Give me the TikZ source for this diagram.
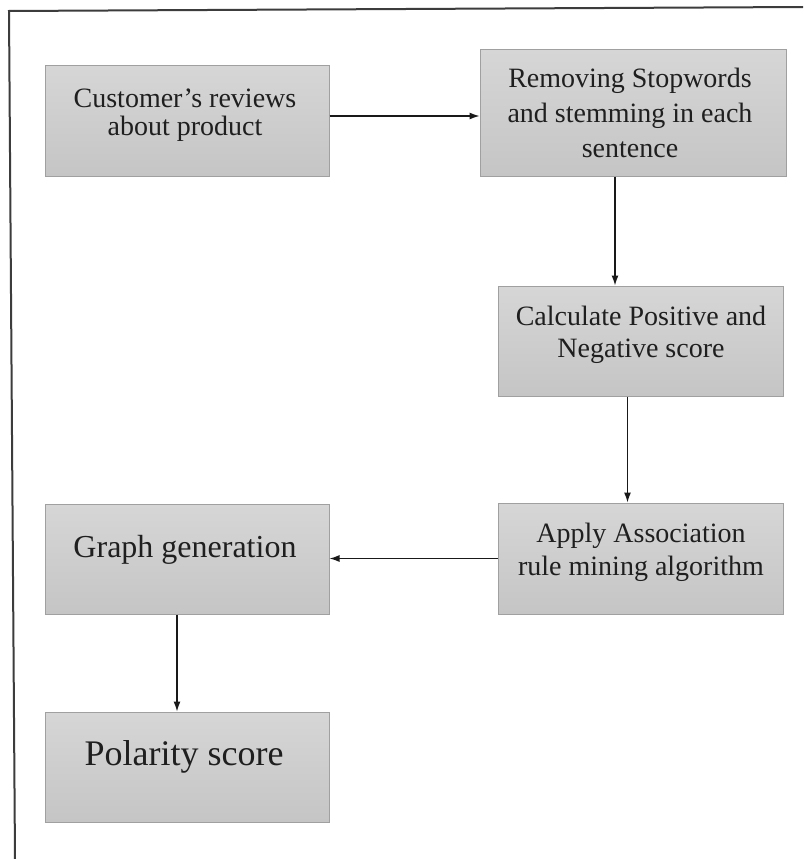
\documentclass[tikz,border=0pt]{standalone}
\usepackage{fontspec}
\setmainfont{Liberation Serif}
\usetikzlibrary{arrows.meta}
\definecolor{boxtop}{RGB}{214,214,214}
\definecolor{boxbot}{RGB}{197,197,197}
\definecolor{boxline}{RGB}{160,160,160}
\definecolor{arr}{RGB}{25,25,25}
\definecolor{frame}{RGB}{60,60,60}
\begin{document}
\begin{tikzpicture}[x=1pt,y=-1pt,
  box/.style={draw=boxline, line width=1pt, top color=boxtop, bottom color=boxbot,
    rectangle, inner sep=0pt},
  lbl/.style={align=center, text=black!88, inner sep=0pt},
  flow/.style={draw=arr, line width=1.3pt, -{Latex[length=10pt,width=7pt]}}]
\useasboundingbox (0,0) rectangle (803,859);
\fill[white] (0,0) rectangle (803,859);
% frame
\coordinate (ftl) at (9,11);
\coordinate (ftr) at (803,7);
\coordinate (fbl) at (15,859);
\draw[frame, line width=2pt] (ftr) -- (ftl) -- (fbl);
% boxes
\node[box, minimum width=284pt, minimum height=110pt] (b1) at (187,121) {};
\node[box, minimum width=306pt, minimum height=126pt] (b2) at (633,113) {};
\node[box, minimum width=285pt, minimum height=110pt] (b3) at (640.5,341) {};
\node[box, minimum width=285pt, minimum height=111pt] (b4) at (640.5,558.5) {};
\node[box, minimum width=284pt, minimum height=110pt] (b5) at (187,559) {};
\node[box, minimum width=284pt, minimum height=110pt] (b6) at (187,767) {};
% labels
\node[lbl, font=\fontsize{28}{28}\selectfont] (t1) at (185,115) {Customer’s reviews\\about product};
\node[lbl, font=\fontsize{28}{35}\selectfont] (t2) at (630,113) {Removing Stopwords\\and stemming in each\\sentence};
\node[lbl, font=\fontsize{28}{32}\selectfont] (t3) at (641,335) {Calculate Positive and\\Negative score};
\node[lbl, font=\fontsize{28}{33}\selectfont] (t4) at (641,552) {Apply Association\\rule mining algorithm};
\node[lbl, font=\fontsize{32}{36}\selectfont] (t5) at (185,550) {Graph generation};
\node[lbl, font=\fontsize{36}{40}\selectfont] (t6) at (184,757) {Polarity score};
% connectors
\draw[flow] ([yshift=5pt]b1.east) -- ([yshift=5pt]b1.east -| b2.west);
\draw[flow] ([xshift=-18pt]b2.south) -- ([xshift=-18pt]b2.south |- b3.north);
\draw[flow] ([xshift=-13pt]b3.south) -- ([xshift=-13pt]b3.south |- b4.north);
\draw[flow] (b4.west) -- (b4.west -| b5.east);
\draw[flow] ([xshift=-10pt]b5.south) -- ([xshift=-10pt]b5.south |- b6.north);
\end{tikzpicture}
\end{document}
